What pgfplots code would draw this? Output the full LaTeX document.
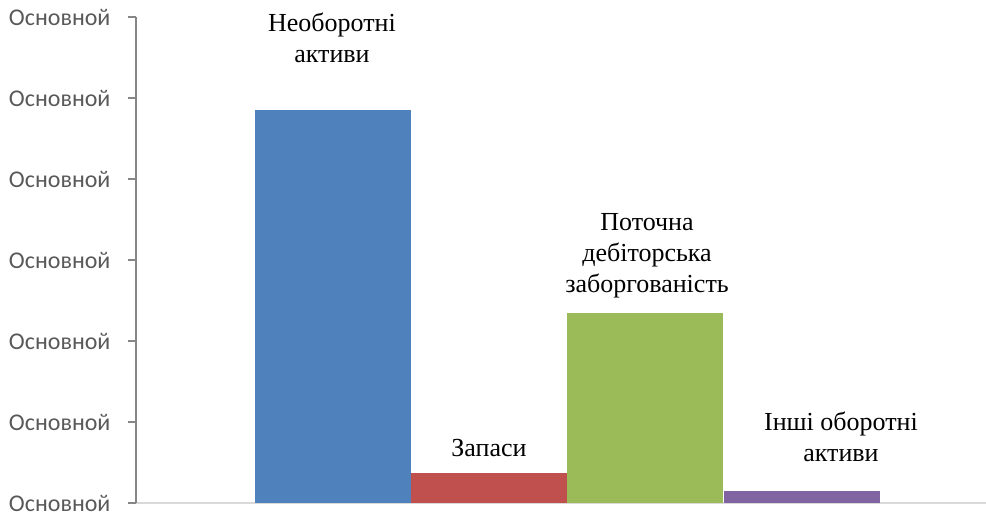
\documentclass[border=0pt]{standalone}
\usepackage{pgfplots}
\pgfplotsset{compat=1.18}
\usepackage{fontspec}
\setmainfont{Liberation Serif}
\newfontfamily\tickfont{Carlito}

\definecolor{cBlue}{HTML}{4F81BD}
\definecolor{cRed}{HTML}{C0504D}
\definecolor{cGreen}{HTML}{9BBB59}
\definecolor{cPurple}{HTML}{8064A2}
\definecolor{tickgray}{HTML}{595959}
\definecolor{axgray}{HTML}{868686}
\definecolor{basegray}{HTML}{D9D9D9}

\tikzset{label node/.style={anchor=south, align=center, inner sep=0pt,
        font=\fontsize{26}{31}\selectfont, text=black}}

\begin{document}
\begin{tikzpicture}
\useasboundingbox (-136pt,-12pt) rectangle (850pt,503pt);
\begin{axis}[
    at={(0,0)}, anchor=south west,
    scale only axis,
    width=850pt, height=486pt,
    xmin=0, xmax=850,
    ymin=0, ymax=6,
    clip=false,
    axis x line=bottom,
    axis y line=left,
    x axis line style={-, draw=basegray, line width=2pt},
    y axis line style={-, draw=axgray, line width=1.5pt},
    xtick=\empty,
    ytick={0,1,2,3,4,5,6},
    yticklabels={Основной,Основной,Основной,Основной,Основной,Основной,Основной},
    tick align=outside,
    major tick length=8pt,
    ytick style={draw=axgray, line width=1.5pt},
    yticklabel style={font=\tickfont\fontsize{24}{28}\selectfont, text=tickgray, xshift=-14pt},
    ybar,
    bar width=156,
    bar shift=0pt,
]
\addplot[fill=cBlue, draw=none,
    nodes near coords={Необоротні\\активи},
    every node near coord/.append style={label node, yshift=47pt, xshift=-1pt}]
    coordinates {(197,4.852)};
\addplot[fill=cRed, draw=none,
    nodes near coords={Запаси},
    every node near coord/.append style={label node, yshift=16pt}]
    coordinates {(353,0.370)};
\addplot[fill=cGreen, draw=none,
    nodes near coords={Поточна\\дебіторська\\заборгованість},
    every node near coord/.append style={label node, yshift=15pt, xshift=2pt}]
    coordinates {(509,2.346)};
\addplot[fill=cPurple, draw=none,
    nodes near coords={Інші оборотні\\активи},
    every node near coord/.append style={label node, yshift=29pt, xshift=39pt}]
    coordinates {(666,0.148)};
\end{axis}
\end{tikzpicture}
\end{document}
